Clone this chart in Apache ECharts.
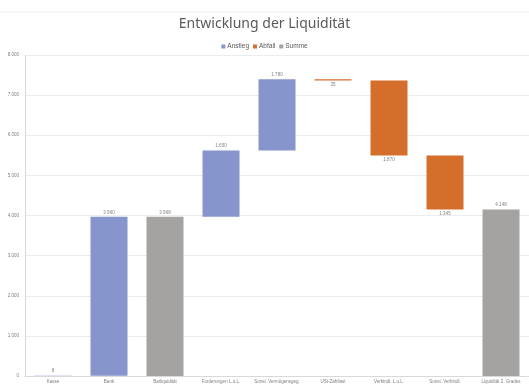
<!DOCTYPE html>
<html><head><meta charset="utf-8">
<script src="https://cdn.jsdelivr.net/npm/echarts@6/dist/echarts.min.js"></script>
<style>html,body{margin:0;padding:0;background:#fff}#c{width:529px;height:385px}</style>
</head><body><div id="c"></div>
<script>
const categories = ["Kasse","Bank","Barliquidität","Forderungen L.u.L.","Sonst. Vermögensgeg.","USt-Zahllast","Verbindl. L.u.L.","Sonst. Verbindl.","Liquidität 2. Grades"];
const deltas = [8, 3960, null, 1650, 1780, -35, -1870, -1345, null];
const kinds = ["up","up","sum","up","up","down","down","down","sum"];
const yTicks = [0,1000,2000,3000,4000,5000,6000,7000,8000];

const fmt = v => Math.round(v).toString().replace(/\B(?=(\d{3})+(?!\d))/g, ".");
const base=[], up=[], down=[], sum=[];
let cum = 0;
categories.forEach((c,i)=>{
  const k = kinds[i];
  if(k==="sum"){ base.push(0); up.push('-'); down.push('-'); sum.push(cum); }
  else if(k==="up"){ base.push(cum); up.push(deltas[i]); down.push('-'); sum.push('-'); cum += deltas[i]; }
  else { cum += deltas[i]; base.push(cum); up.push('-'); down.push(-deltas[i]); sum.push('-'); }
});
const lbl = (pos)=>({show:true, position:pos, fontSize:4.5, color:'#7f7f7f', distance:2, formatter:p=>fmt(p.value)});
const chart = echarts.init(document.getElementById('c'));
chart.setOption({
  animation:false,
  title:{text:'Entwicklung der Liquidität', left:'center', top:12, textStyle:{fontSize:14, fontWeight:'normal', color:'#595959', fontFamily:'Noto Sans'}},
  legend:{data:['Anstieg','Abfall','Summe'], top:38, left:'center', itemWidth:4, itemHeight:4, itemGap:4, icon:'rect', textStyle:{fontSize:6.5, color:'#595959', padding:[0,0,0,-3]}},
  grid:{left:25, top:55, width:509, bottom:9},
  xAxis:{type:'category', data:categories, axisTick:{show:false}, axisLine:{lineStyle:{color:'#d9d9d9'}}, axisLabel:{fontSize:4.5, color:'#7f7f7f', margin:3, interval:0}},
  yAxis:{type:'value', min:yTicks[0], max:yTicks[yTicks.length-1], interval:1000, axisLine:{show:true, lineStyle:{color:'#d9d9d9'}}, splitLine:{lineStyle:{color:'#ececec'}}, axisLabel:{fontSize:4.5, color:'#7f7f7f', margin:6, formatter:v=>fmt(v)}},
  series:[
    {name:'base', type:'bar', stack:'w', data:base, itemStyle:{color:'transparent'}, barWidth:37, silent:true},
    {name:'Anstieg', type:'bar', stack:'w', data:up, itemStyle:{color:'#8795cd'}, label:lbl('top')},
    {name:'Abfall', type:'bar', stack:'w', data:down, itemStyle:{color:'#d56e2b'}, label:lbl('bottom')},
    {name:'Summe', type:'bar', stack:'w', data:sum, itemStyle:{color:'#a5a3a1'}, label:lbl('top')}
  ],
  graphic:[{type:'line', shape:{x1:0,y1:12,x2:529,y2:12}, style:{stroke:'#eeeeee', lineWidth:1}}]
});
</script></body></html>
